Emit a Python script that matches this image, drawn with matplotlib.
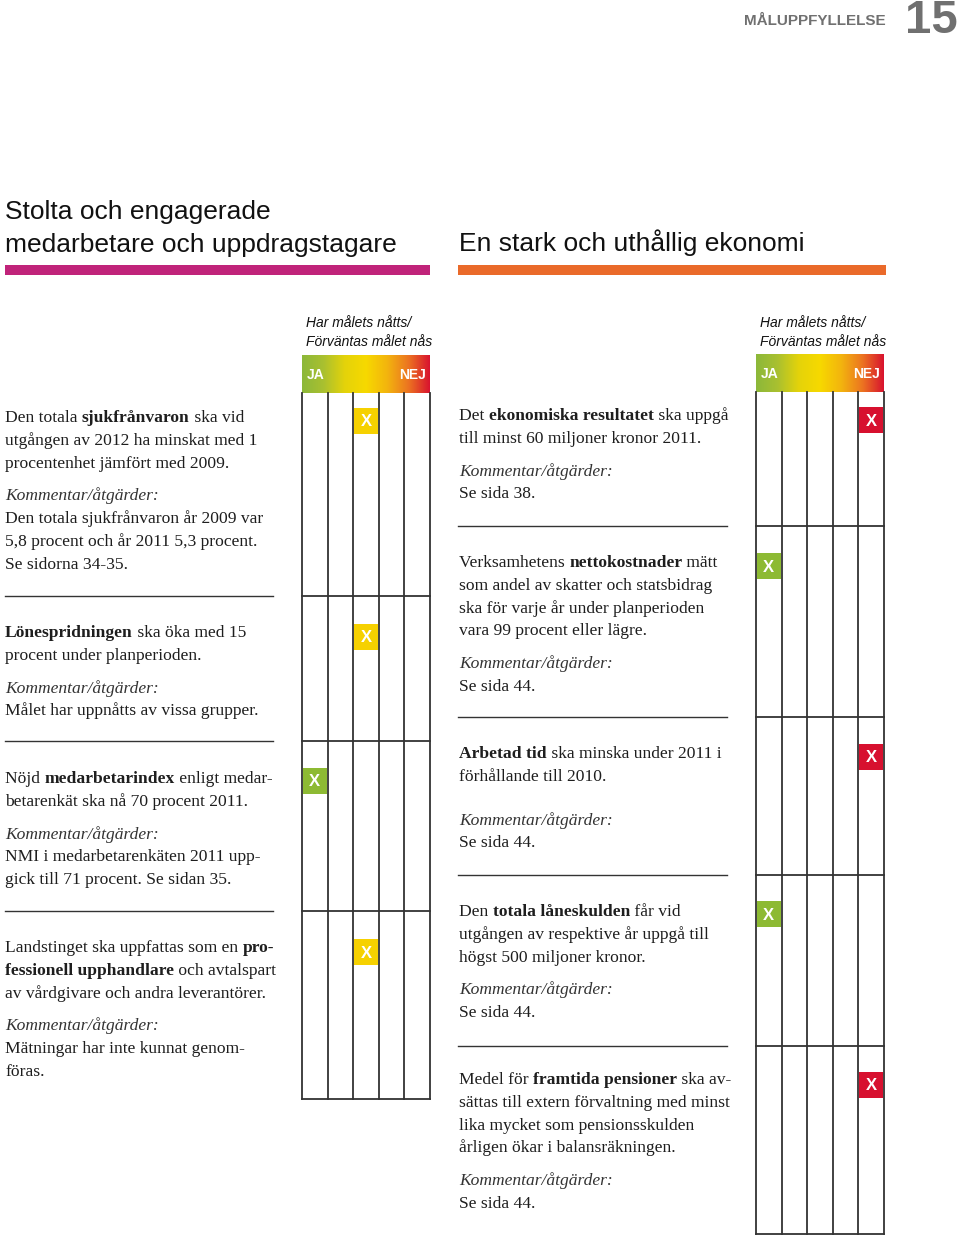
import numpy as np
import matplotlib.pyplot as plt
from matplotlib.colors import LinearSegmentedColormap
from matplotlib.patches import Rectangle

# goal texts, ** marks bold words
left_goals = [
    ["Den totala **sjukfrånvaron** ska vid",
     "utgången av 2012 ha minskat med 1",
     "procentenhet jämfört med 2009."],
    ["**Lönespridningen** ska öka med 15",
     "procent under planperioden."],
    ["Nöjd **medarbetarindex** enligt medar-",
     "betarenkät ska nå 70 procent 2011."],
    ["Landstinget ska uppfattas som en **pro-**",
     "**fessionell upphandlare** och avtalspart",
     "av vårdgivare och andra leverantörer."],
]
left_comments = [
    ["Den totala sjukfrånvaron år 2009 var",
     "5,8 procent och år 2011 5,3 procent.",
     "Se sidorna 34-35."],
    ["Målet har uppnåtts av vissa grupper."],
    ["NMI i medarbetarenkäten 2011 upp-",
     "gick till 71 procent. Se sidan 35."],
    ["Mätningar har inte kunnat genom-",
     "föras."],
]
left_answer = [3, 3, 1, 3]   # column 1 = JA ... 5 = NEJ

right_goals = [
    ["Det **ekonomiska resultatet** ska uppgå",
     "till minst 60 miljoner kronor 2011."],
    ["Verksamhetens **nettokostnader** mätt",
     "som andel av skatter och statsbidrag",
     "ska för varje år under planperioden",
     "vara 99 procent eller lägre."],
    ["**Arbetad tid** ska minska under 2011 i",
     "förhållande till 2010."],
    ["Den **totala låneskulden** får vid",
     "utgången av respektive år uppgå till",
     "högst 500 miljoner kronor."],
    ["Medel för **framtida pensioner** ska av-",
     "sättas till extern förvaltning med minst",
     "lika mycket som pensionsskulden",
     "årligen ökar i balansräkningen."],
]
right_comments = [["Se sida 38."], ["Se sida 44."], ["Se sida 44."],
                  ["Se sida 44."], ["Se sida 44."]]
right_answer = [5, 1, 5, 1, 5]

col_colors = {1: "#8dba33", 2: "#c4c81c", 3: "#f6d100", 4: "#ef8a1f", 5: "#d7102f"}

SERIF = "Liberation Serif"
SANS = "Liberation Sans"
TXT = "#1e1e1e"
COM = "#333333"

fig = plt.figure(figsize=(9.6, 12.38), dpi=100)
ax = fig.add_axes([0, 0, 1, 1])
ax.set_xlim(0, 960)
ax.set_ylim(1238, 0)
ax.axis("off")
renderer = fig.canvas.get_renderer()


def rich_line(x, y, line, size=12.6, color=TXT):
    parts = line.split("**")
    for i, p in enumerate(parts):
        if not p:
            continue
        t = ax.text(x, y, p, fontsize=size, family=SERIF, color=color,
                    weight="bold" if i % 2 else "normal", va="baseline")
        x += t.get_window_extent(renderer).width


def block(x, y, goal, comment, gap=10):
    lh = 22.8
    for line in goal:
        rich_line(x, y, line)
        y += lh
    y += gap
    ax.text(x, y, "Kommentar/åtgärder:", fontsize=12.6, family=SERIF,
            style="italic", color=COM, va="baseline")
    y += lh
    for line in comment:
        rich_line(x, y, line)
        y += lh


# page header
ax.text(886, 25, "MÅLUPPFYLLELSE", fontsize=11, family=SANS, weight="bold",
        color="#707070", ha="right", va="baseline")
ax.text(958, 33, "15", fontsize=34, family=SANS, weight="bold",
        color="#707070", ha="right", va="baseline")

# section headings
ax.text(5, 219, "Stolta och engagerade", fontsize=19, family=SANS, color="#111111", va="baseline")
ax.text(5, 252, "medarbetare och uppdragstagare", fontsize=19, family=SANS, color="#111111", va="baseline")
ax.text(459, 251, "En stark och uthållig ekonomi", fontsize=19, family=SANS, color="#111111", va="baseline")
ax.add_patch(Rectangle((5, 265), 425, 10, color="#c0237a", lw=0))
ax.add_patch(Rectangle((458, 265), 428, 10, color="#ea6a2a", lw=0))

grad = LinearSegmentedColormap.from_list(
    "janej", ["#8cb83a", "#a9c030", "#e4d30a", "#f7d900", "#f3b40e", "#ec7421", "#d8132f"])


def grid(x0, top, rows):
    w = 25.6
    # legend header
    ax.text(x0 + 4, 327, "Har målets nåtts/", fontsize=10, family=SANS,
            style="italic", color="#111111", va="baseline")
    ax.text(x0 + 4, 346, "Förväntas målet nås", fontsize=10, family=SANS,
            style="italic", color="#111111", va="baseline")
    ax.imshow(np.linspace(0, 1, 256)[None, :], cmap=grad, aspect="auto",
              extent=(x0, x0 + 5 * w, top, top - 38), zorder=1)
    ax.text(x0 + 5, top - 14, "JA", fontsize=10, family=SANS, weight="bold",
            color="white", va="baseline")
    ax.text(x0 + 5 * w - 4, top - 14, "NEJ", fontsize=10, family=SANS, weight="bold",
            color="white", ha="right", va="baseline")
    # table lines
    for k in range(6):
        ax.plot([x0 + k * w, x0 + k * w], [top, rows[-1]], color="#333333", lw=1.3)
    for r in rows[1:]:
        ax.plot([x0, x0 + 5 * w], [r, r], color="#333333", lw=1.3)
    return w


left_rows = [393, 596, 741, 911, 1099]
right_rows = [392, 526, 717, 875, 1046, 1234]
left_xoff = [28, 41, 40, 41]
right_xoff = [28, 40, 40, 39, 39]

for x0, top, rows, ans, offs in [(302, 393, left_rows, left_answer, left_xoff),
                                 (756, 392, right_rows, right_answer, right_xoff)]:
    w = grid(x0, top, rows)
    for i, c in enumerate(ans):
        cy = rows[i] + offs[i]
        ax.add_patch(Rectangle((x0 + (c - 1) * w + 0.6, cy - 13), w - 1.2, 26,
                               color=col_colors[c], lw=0, zorder=3))
        ax.text(x0 + (c - 0.5) * w, cy + 1, "X", fontsize=12, family=SANS,
                weight="bold", color="white", ha="center", va="center", zorder=4)

# left text blocks
left_start = [422, 637, 783, 952]
for i in range(4):
    block(5, left_start[i], left_goals[i], left_comments[i])
for r in left_rows[1:4]:
    ax.plot([5, 273], [r, r], color="#333333", lw=1)

right_start = [420, 567, 758, 916, 1084]
right_gap = [10, 10, 21, 10, 10]
for i in range(5):
    block(459, right_start[i], right_goals[i], right_comments[i], right_gap[i])
for r in right_rows[1:5]:
    ax.plot([458, 727], [r, r], color="#333333", lw=1)

fig.savefig("out.png", dpi=100)
